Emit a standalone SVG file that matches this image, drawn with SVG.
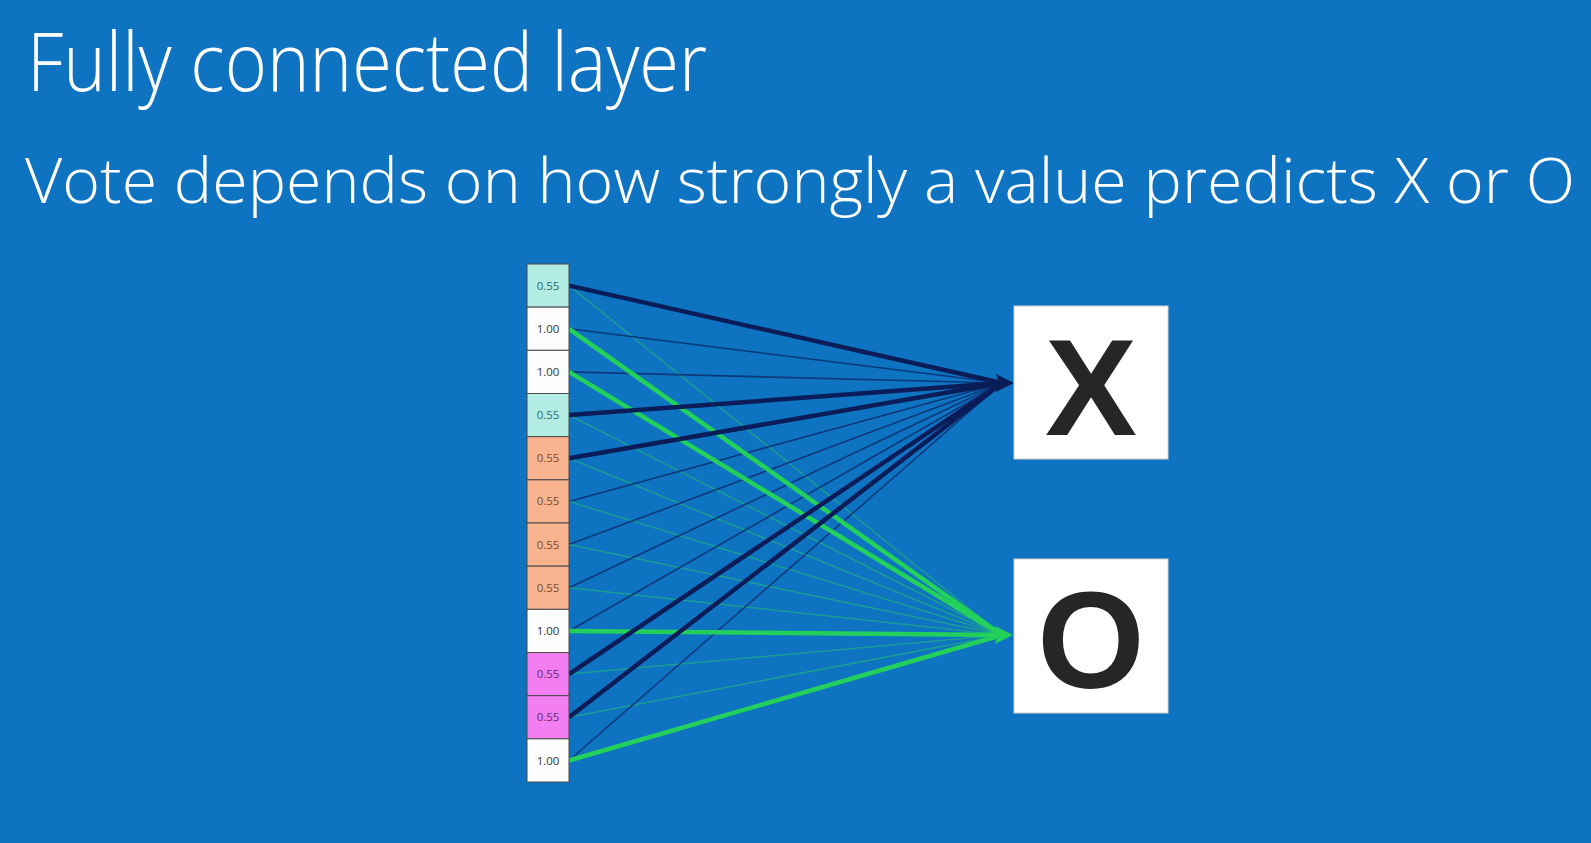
<svg xmlns="http://www.w3.org/2000/svg" width="1591" height="843" viewBox="0 0 1591 843">
<style>
.bg{fill:#0e73c1}
.title{font-family:"Open Sans","Liberation Sans",sans-serif;font-weight:300;fill:#ffffff}
.cell{stroke:#4a4a4a;stroke-width:1}
.teal{fill:#b3ece3}
.white{fill:#fdfdfd}
.orange{fill:#f7b48e}
.mag{fill:#f27ef2}
.val{font-family:"Open Sans","Liberation Sans",sans-serif;font-size:11.5px;text-anchor:middle}
.tv{fill:#2c6a62}
.wv{fill:#333333}
.ov{fill:#7a4a2c}
.mv{fill:#6a2a6a}
.box{fill:#ffffff;stroke:#d0d0d0;stroke-width:1}
.big{font-family:"Liberation Sans",Arial,sans-serif;font-weight:bold;font-size:138px;fill:#262626;text-anchor:middle}
.nx{stroke:#0a1d58;stroke-width:4.5;fill:none}
.nxt{stroke:#0b2f70;stroke-width:1.6;fill:none;opacity:0.85}
.go{stroke:#24d05c;stroke-width:4.5;fill:none}
.got{stroke:#26c86a;stroke-width:1.5;fill:none;opacity:0.5}
</style>
<rect class="bg" x="0" y="0" width="1591" height="843"/>
<g id="title">
<text class="title" x="27" y="91" font-size="82" textLength="680" lengthAdjust="spacingAndGlyphs">Fully connected layer</text>
</g>
<g id="subtitle">
<text class="title" x="25" y="203" font-size="63.5" textLength="1550" lengthAdjust="spacingAndGlyphs">Vote depends on how strongly a value predicts X or O</text>
</g>
<g id="connectors">
<line class="got" x1="569" y1="285.6" x2="1002" y2="635"/>
<line class="nxt" x1="569" y1="328.8" x2="1002" y2="383"/>
<line class="nxt" x1="569" y1="371.9" x2="1002" y2="383"/>
<line class="got" x1="569" y1="415.1" x2="1002" y2="635"/>
<line class="got" x1="569" y1="458.3" x2="1002" y2="635"/>
<line class="nxt" x1="569" y1="501.4" x2="1002" y2="383"/>
<line class="got" x1="569" y1="501.4" x2="1002" y2="635"/>
<line class="nxt" x1="569" y1="544.6" x2="1002" y2="383"/>
<line class="got" x1="569" y1="544.6" x2="1002" y2="635"/>
<line class="nxt" x1="569" y1="587.8" x2="1002" y2="383"/>
<line class="got" x1="569" y1="587.8" x2="1002" y2="635"/>
<line class="nxt" x1="569" y1="631" x2="1002" y2="383"/>
<line class="got" x1="569" y1="674.1" x2="1002" y2="635"/>
<line class="got" x1="569" y1="717.3" x2="1002" y2="635"/>
<line class="nxt" x1="569" y1="760.5" x2="1002" y2="383"/>
<line class="go" x1="569" y1="328.8" x2="1002" y2="635"/>
<line class="go" x1="569" y1="371.9" x2="1002" y2="635"/>
<line class="go" x1="569" y1="631" x2="1002" y2="635"/>
<line class="go" x1="569" y1="760.5" x2="1002" y2="635"/>
<line class="nx" x1="569" y1="285.6" x2="1002" y2="383"/>
<line class="nx" x1="569" y1="415.1" x2="1002" y2="383"/>
<line class="nx" x1="569" y1="458.3" x2="1002" y2="383"/>
<line class="nx" x1="569" y1="674.1" x2="1002" y2="383"/>
<line class="nx" x1="569" y1="717.3" x2="1002" y2="383"/>
<polygon points="1014,383 996,374 999,383 996,392" fill="#0a1d58"/>
<polygon points="1013,635 995,626 998,635 995,644" fill="#24d05c"/>
</g>
<g id="vector">
<rect class="cell teal" x="527" y="264" width="42" height="43.17"/>
<rect class="cell white" x="527" y="307.17" width="42" height="43.17"/>
<rect class="cell white" x="527" y="350.33" width="42" height="43.17"/>
<rect class="cell teal" x="527" y="393.5" width="42" height="43.17"/>
<rect class="cell orange" x="527" y="436.67" width="42" height="43.17"/>
<rect class="cell orange" x="527" y="479.83" width="42" height="43.17"/>
<rect class="cell orange" x="527" y="523" width="42" height="43.17"/>
<rect class="cell orange" x="527" y="566.17" width="42" height="43.17"/>
<rect class="cell white" x="527" y="609.33" width="42" height="43.17"/>
<rect class="cell mag" x="527" y="652.5" width="42" height="43.17"/>
<rect class="cell mag" x="527" y="695.67" width="42" height="43.17"/>
<rect class="cell white" x="527" y="738.83" width="42" height="43.17"/>
<text class="val tv" x="548" y="289.6">0.55</text>
<text class="val wv" x="548" y="332.8">1.00</text>
<text class="val wv" x="548" y="375.9">1.00</text>
<text class="val tv" x="548" y="419.1">0.55</text>
<text class="val ov" x="548" y="462.3">0.55</text>
<text class="val ov" x="548" y="505.4">0.55</text>
<text class="val ov" x="548" y="548.6">0.55</text>
<text class="val ov" x="548" y="591.8">0.55</text>
<text class="val wv" x="548" y="635">1.00</text>
<text class="val mv" x="548" y="678.1">0.55</text>
<text class="val mv" x="548" y="721.3">0.55</text>
<text class="val wv" x="548" y="764.5">1.00</text>
</g>
<g id="node-x">
<rect class="box" x="1014" y="306" width="154" height="153"/>
<text class="big" x="1091" y="435">X</text>
</g>
<g id="node-o">
<rect class="box" x="1014" y="559" width="154" height="154"/>
<text class="big" x="1091" y="688">O</text>
</g>
</svg>
